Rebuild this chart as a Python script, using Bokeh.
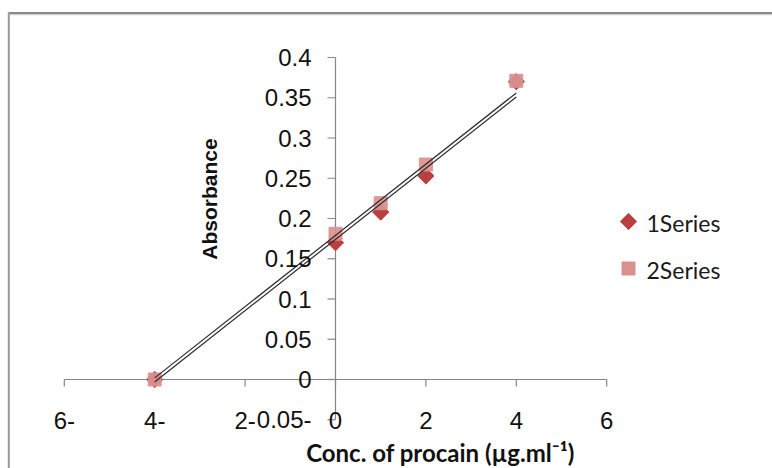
import numpy as np
from bokeh.plotting import figure
from bokeh.models import Range1d, ColumnDataSource
from bokeh.core.properties import value
from bokeh.embed import file_html
from bokeh.resources import INLINE

# ---------------- data ----------------
conc = [-4, 0, 1, 2, 4]
series1 = [0.0, 0.170, 0.208, 0.253, 0.370]
series2 = [0.0, 0.181, 0.219, 0.267, 0.371]
series_names = ["1Series", "2Series"]

# trendline end points
trend_x = [-4, 4]
trend1_y = [-0.003, 0.351]
trend2_y = [0.002, 0.356]

x_ticks = [-6, -4, -2, 0, 2, 4, 6]
x_tick_labels = ["6-", "4-", "2-", "0", "2", "4", "6"]
y_ticks = [-0.05, 0.0, 0.05, 0.1, 0.15, 0.2, 0.25, 0.3, 0.35, 0.4]
y_tick_labels = ["0.05-", "0", "0.05", "0.1", "0.15", "0.2", "0.25", "0.3", "0.35", "0.4"]

x_title = "Conc. of procain (µg.ml\u207b\u00b9)"
y_title = "Absorbance"

# ---------------- layout (pixels in the figure) ----------------
W, H = 772, 468
X0_PX, X_PER_UNIT = 335.0, 45.2
Y0_PX, Y_PER_UNIT = 379.0, 805.0


def fx(px):
    return (px - X0_PX) / X_PER_UNIT


def fy(py):
    return (Y0_PX - py) / Y_PER_UNIT


p = figure(width=W, height=H, output_backend="svg", toolbar_location=None,
           x_range=Range1d(fx(0), fx(W)), y_range=Range1d(fy(H), fy(0)),
           x_axis_type=None, y_axis_type=None, min_border=0)
p.grid.visible = False
p.outline_line_color = None
p.background_fill_color = "white"
p.border_fill_color = "white"

# chart frame border (top + left)
p.segment(x0=[fx(8)], y0=[fy(12.5)], x1=[fx(W)], y1=[fy(12.5)],
          line_color="#8a8a8a", line_width=2.2)
p.segment(x0=[fx(9)], y0=[fy(14.2)], x1=[fx(W)], y1=[fy(14.2)],
          line_color="#d0d0d0", line_width=1.2)
p.segment(x0=[fx(8.3)], y0=[fy(12)], x1=[fx(8.3)], y1=[fy(H)],
          line_color="#9a9a9a", line_width=2)

AX = "#868686"
# axes lines
p.segment(x0=[x_ticks[0]], y0=[0], x1=[x_ticks[-1]], y1=[0], line_color=AX, line_width=1.2)
p.segment(x0=[0], y0=[y_ticks[0]], x1=[0], y1=[y_ticks[-1]], line_color=AX, line_width=1.2)
# ticks
tick_x_len = 7 / Y_PER_UNIT
p.segment(x0=x_ticks, y0=[0] * len(x_ticks), x1=x_ticks, y1=[-tick_x_len] * len(x_ticks),
          line_color=AX, line_width=1.2)
tick_y_len = 8 / X_PER_UNIT
p.segment(x0=[0] * len(y_ticks), y0=y_ticks, x1=[-tick_y_len] * len(y_ticks), y1=y_ticks,
          line_color=AX, line_width=1.2)

# series markers
src1 = ColumnDataSource(dict(x=conc, y=series1))
src2 = ColumnDataSource(dict(x=conc, y=series2))
p.scatter("x", "y", source=src1, marker="square", angle=np.pi / 4, size=11.5,
          fill_color="#B8403E", line_color="#B8403E")
p.scatter("x", "y", source=src2, marker="square", size=13,
          fill_color="#D99190", line_color="#D99190", fill_alpha=0.92, line_alpha=0.92)

# trendlines
p.line(trend_x, trend1_y, line_color="#2b2b2b", line_width=1.2)
p.line(trend_x, trend2_y, line_color="#2b2b2b", line_width=1.2)

TICK_FONT = value("Liberation Sans")
# x tick labels
p.text(x=x_ticks, y=[y_ticks[0]] * len(x_ticks), text=x_tick_labels, y_offset=1,
       text_font=TICK_FONT, text_font_size="24px", text_align="center",
       text_baseline="middle", text_color="#111111")
# y tick labels
p.text(x=[0] * len(y_ticks), y=y_ticks, text=y_tick_labels, x_offset=-24,
       text_font=TICK_FONT, text_font_size="24px", text_align="right",
       text_baseline="middle", text_color="#111111")

# axis titles
p.text(x=[fx(209)], y=[fy(198.5)], text=[y_title], angle=np.pi / 2,
       text_font=value("Liberation Sans"), text_font_style="bold", text_font_size="21px",
       text_align="center", text_baseline="middle", text_color="#111111")
p.text(x=[fx(440)], y=[fy(452)], text=[x_title],
       text_font=value("Lato"), text_font_style="bold", text_font_size="24px",
       text_align="center", text_baseline="middle", text_color="#111111")

# legend
p.scatter(x=[fx(628)], y=[fy(221)], marker="square", angle=np.pi / 4, size=11.5,
          fill_color="#B8403E", line_color="#B8403E")
p.scatter(x=[fx(628)], y=[fy(268)], marker="square", size=13,
          fill_color="#D99190", line_color="#D99190")
p.text(x=[fx(646), fx(646)], y=[fy(222), fy(269)], text=series_names,
       text_font=value("Lato"), text_font_size="23px", text_align="left",
       text_baseline="middle", text_color="#1a1a1a")

open("out.html", "w").write(file_html(p, INLINE))
